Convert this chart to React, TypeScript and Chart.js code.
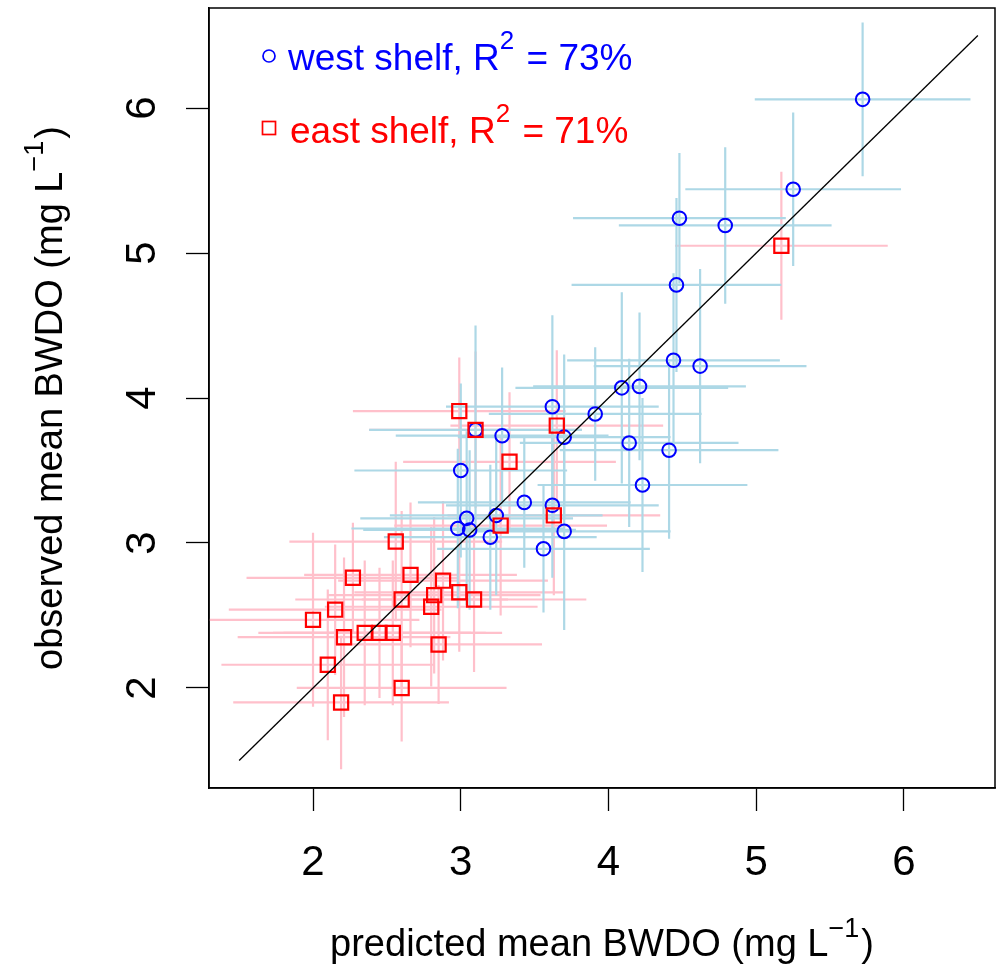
import React, { useEffect, useRef } from 'react';
import { Chart, registerables } from 'chart.js';

Chart.register(...registerables);

// ---------- data ----------
const xTicks = [2, 3, 4, 5, 6];
const yTicks = [2, 3, 4, 5, 6];

const xLimits = [1.296, 6.616];
const yLimits = [1.31, 6.69];

const oneToOne = [1.5, 6.5];

// west shelf (blue circles)
const westX = [5.72, 5.25, 4.79, 4.48, 4.46, 4.44, 4.62, 4.09, 4.21, 3.62, 3.91, 3.28, 3.70, 4.14, 4.41, 3.00, 4.23, 3.43, 3.62, 3.04, 3.24, 2.98, 3.06, 3.20, 3.70, 3.56, 3.10];
const westY = [6.06, 5.44, 5.19, 5.24, 4.78, 4.26, 4.22, 4.07, 4.08, 3.94, 3.89, 3.74, 3.73, 3.69, 3.64, 3.50, 3.40, 3.28, 3.26, 3.17, 3.19, 3.10, 3.09, 3.04, 3.08, 2.96, 3.78];
const westXErr = [0.73, 0.73, 0.72, 0.72, 0.71, 0.72, 0.72, 0.72, 0.72, 0.72, 0.72, 0.72, 0.72, 0.74, 0.74, 0.72, 0.71, 0.72, 0.72, 0.72, 0.72, 0.72, 0.72, 0.72, 0.72, 0.72, 0.72];
const westYErr = [0.53, 0.53, 0.54, 0.45, 0.6, 0.6, 0.67, 0.66, 0.51, 0.63, 0.46, 0.47, 0.57, 0.58, 0.61, 0.6, 0.6, 0.45, 0.5, 0.6, 0.55, 0.55, 0.55, 0.5, 0.68, 0.44, 0.72];

// east shelf (red squares)
const eastX = [5.17, 2.99, 3.10, 3.65, 3.33, 3.63, 3.27, 2.56, 2.27, 2.66, 2.88, 2.82, 2.99, 3.09, 2.80, 2.60, 2.15, 2.00, 2.35, 2.45, 2.54, 2.21, 2.85, 2.10, 2.60, 2.19];
const eastY = [5.05, 3.91, 3.78, 3.81, 3.56, 3.19, 3.12, 3.01, 2.76, 2.78, 2.74, 2.64, 2.66, 2.61, 2.56, 2.61, 2.54, 2.47, 2.38, 2.38, 2.38, 2.35, 2.30, 2.16, 2.00, 1.90];
const eastXErr = [0.72, 0.72, 0.72, 0.72, 0.72, 0.72, 0.72, 0.72, 0.72, 0.72, 0.71, 0.72, 0.71, 0.76, 0.72, 0.72, 0.72, 0.72, 0.72, 0.72, 0.74, 0.72, 0.70, 0.72, 0.71, 0.73];
const eastYErr = [0.51, 0.37, 0.54, 0.52, 0.48, 0.55, 0.62, 0.55, 0.38, 0.5, 0.55, 0.54, 0.41, 0.5, 0.55, 0.61, 0.45, 0.6, 0.5, 0.45, 0.5, 0.55, 0.41, 0.52, 0.37, 0.46];

const westLabel = ['west shelf, R', '2', ' = 73%'];
const eastLabel = ['east shelf, R', '2', ' = 71%'];
const xTitle = ['predicted mean BWDO (mg L', '\u22121', ')'];
const yTitle = ['observed mean BWDO (mg L', '\u22121', ')'];

const FONT = '"Liberation Sans", Arial, Helvetica, sans-serif';
const TICK = 42;

function drawRich(ctx: CanvasRenderingContext2D, parts: string[], x: number, y: number, raise: number, center: boolean, main: number, sup: number) {
  const fonts = parts.map((_, i) => (i % 2 === 1 ? `${sup}px ${FONT}` : `${main}px ${FONT}`));
  let total = 0;
  const widths = parts.map((p, i) => {
    ctx.font = fonts[i];
    const w = ctx.measureText(p).width + (i % 2 === 1 ? 2 : 0);
    total += w;
    return w;
  });
  let cx = center ? x - total / 2 : x;
  ctx.textAlign = 'left';
  ctx.textBaseline = 'alphabetic';
  parts.forEach((p, i) => {
    ctx.font = fonts[i];
    ctx.fillText(p, cx, i % 2 === 1 ? y - raise : y);
    cx += widths[i];
  });
}

const zeroPad = (s: any) => {
  s.paddingTop = 0;
  s.paddingBottom = 0;
  s.paddingLeft = 0;
  s.paddingRight = 0;
};

export default function App() {
  const ref = useRef<HTMLCanvasElement>(null);

  useEffect(() => {
    if (!ref.current) return;

    const errorBars = {
      id: 'errorBars',
      beforeDatasetsDraw(chart: any) {
        const { ctx, chartArea: a, scales } = chart;
        const xs = scales.x;
        const ys = scales.y;
        ctx.save();
        ctx.beginPath();
        ctx.rect(a.left, a.top, a.right - a.left, a.bottom - a.top);
        ctx.clip();
        ctx.lineWidth = 2.2;
        const draw = (X: number[], Y: number[], XE: number[], YE: number[], color: string) => {
          ctx.strokeStyle = color;
          for (let i = 0; i < X.length; i++) {
            const px = xs.getPixelForValue(X[i]);
            const py = ys.getPixelForValue(Y[i]);
            ctx.beginPath();
            ctx.moveTo(xs.getPixelForValue(X[i] - XE[i]), py);
            ctx.lineTo(xs.getPixelForValue(X[i] + XE[i]), py);
            ctx.moveTo(px, ys.getPixelForValue(Y[i] - YE[i]));
            ctx.lineTo(px, ys.getPixelForValue(Y[i] + YE[i]));
            ctx.stroke();
          }
        };
        draw(eastX, eastY, eastXErr, eastYErr, '#FFC0CB');
        draw(westX, westY, westXErr, westYErr, '#ADD8E6');
        ctx.restore();
      },
    };

    const decorations = {
      id: 'decorations',
      afterDraw(chart: any) {
        const { ctx, chartArea: a } = chart;
        ctx.save();
        // box
        ctx.strokeStyle = '#000';
        ctx.lineWidth = 1.5;
        ctx.strokeRect(a.left, a.top, a.right - a.left, a.bottom - a.top);

        // axis titles
        ctx.fillStyle = '#000';
        drawRich(ctx, xTitle, (a.left + a.right) / 2, 956, 19, true, 38, 27);
        ctx.save();
        ctx.translate(62, (a.top + a.bottom) / 2);
        ctx.rotate(-Math.PI / 2);
        drawRich(ctx, yTitle, 0, 0, 19, true, 38, 27);
        ctx.restore();

        // legend
        ctx.lineWidth = 1.7;
        ctx.strokeStyle = '#0000FF';
        ctx.beginPath();
        ctx.arc(269, 56, 6, 0, Math.PI * 2);
        ctx.stroke();
        ctx.fillStyle = '#0000FF';
        drawRich(ctx, westLabel, 288, 70, 21, false, 37, 26);

        ctx.strokeStyle = '#FF0000';
        ctx.strokeRect(262.5, 121.5, 13, 13);
        ctx.fillStyle = '#FF0000';
        drawRich(ctx, eastLabel, 290, 143, 21, false, 37, 26);
        ctx.restore();
      },
    };

    const chart = new Chart(ref.current, {
      type: 'scatter',
      data: {
        datasets: [
          {
            type: 'line',
            label: '1:1',
            data: oneToOne.map((v) => ({ x: v, y: v })),
            borderColor: '#000',
            borderWidth: 1.3,
            pointRadius: 0,
            fill: false,
            order: 0,
          } as any,
          {
            label: 'east shelf',
            data: eastX.map((v, i) => ({ x: v, y: eastY[i] })),
            pointStyle: 'rect',
            pointRadius: 10,
            borderColor: '#FF0000',
            backgroundColor: 'rgba(0,0,0,0)',
            borderWidth: 2.2,
            order: 1,
          },
          {
            label: 'west shelf',
            data: westX.map((v, i) => ({ x: v, y: westY[i] })),
            pointStyle: 'circle',
            pointRadius: 6.8,
            borderColor: '#0000FF',
            backgroundColor: 'rgba(0,0,0,0)',
            borderWidth: 2,
            order: 2,
          },
        ],
      },
      options: {
        animation: false,
        responsive: false,
        devicePixelRatio: 1,
        layout: { autoPadding: false, padding: { top: 8, right: 1, left: 0, bottom: 0 } },
        plugins: { legend: { display: false }, tooltip: { enabled: false } },
        scales: {
          x: {
            type: 'linear',
            position: 'bottom',
            min: xLimits[0],
            max: xLimits[1],
            afterBuildTicks: (s: any) => {
              s.ticks = xTicks.map((v) => ({ value: v }));
            },
            afterFit: (s: any) => {
              s.height = 179;
              zeroPad(s);
            },
            grid: { drawOnChartArea: false, drawTicks: true, tickLength: 23, color: '#000', tickColor: '#000', tickWidth: 1.3 },
            border: { display: true, color: '#000', width: 1.5 },
            ticks: {
              font: { family: FONT, size: TICK },
              color: '#000',
              padding: 27,
              maxRotation: 0,
              autoSkip: false,
              callback: (v: any) => String(v),
            },
          },
          y: {
            type: 'linear',
            position: 'left',
            min: yLimits[0],
            max: yLimits[1],
            afterBuildTicks: (s: any) => {
              s.ticks = yTicks.map((v) => ({ value: v }));
            },
            afterFit: (s: any) => {
              s.width = 209;
              zeroPad(s);
            },
            grid: { drawOnChartArea: false, drawTicks: true, tickLength: 23, color: '#000', tickColor: '#000', tickWidth: 1.3 },
            border: { display: true, color: '#000', width: 1.5 },
            ticks: {
              font: { family: FONT, size: TICK },
              color: '#000',
              padding: 31,
              minRotation: 90,
              maxRotation: 90,
              crossAlign: 'center',
              autoSkip: false,
              callback: (v: any) => String(v),
            },
          },
        },
      },
      plugins: [errorBars, decorations],
    });

    return () => chart.destroy();
  }, []);

  return (
    <div style={{ position: 'absolute', left: 0, top: 0, width: 996, height: 967, background: '#fff' }}>
      <canvas ref={ref} width={996} height={967} style={{ display: 'block' }} />
    </div>
  );
}
